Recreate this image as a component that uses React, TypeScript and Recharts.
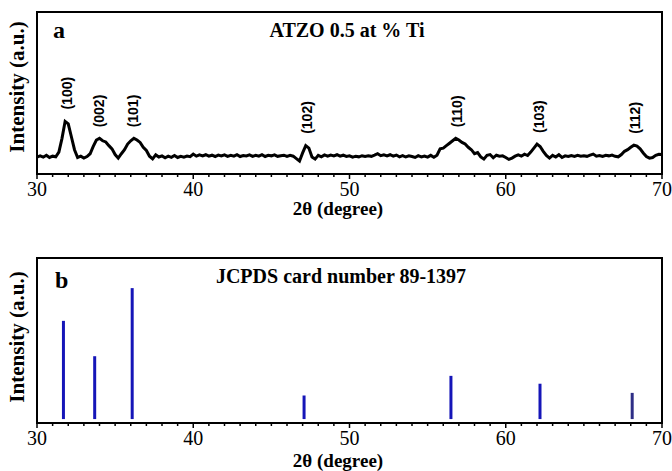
import { ComposedChart, Line, Scatter, Bar, Cell, XAxis, YAxis, ReferenceArea } from 'recharts';

// XRD pattern (a): intensity sampled every 0.2 degree from 30 to 70
const START_DEG = 30;
const STEP_DEG = 0.2;
const INTENSITY_A = [
    10.5, 11.2, 10.4, 11.6, 10.2, 11.0, 10.6, 13.5, 22.0, 32.5,
    31.0, 23.0, 15.0, 10.2, 11.0, 9.8, 10.8, 12.5, 17.0, 21.0,
    22.0, 20.5, 19.8, 17.5, 15.5, 12.0, 9.8, 12.5, 15.0, 18.5,
    20.5, 22.0, 21.0, 19.5, 16.5, 14.5, 11.0, 9.3, 11.8, 10.5,
    11.2, 10.0, 11.0, 10.3, 11.4, 10.2, 10.9, 10.4, 11.1, 10.7,
    12.3, 11.0, 11.8, 11.2, 11.9, 11.0, 11.6, 10.8, 11.7, 11.1,
    11.8, 10.9, 11.5, 11.0, 11.9, 10.8, 11.4, 11.1, 11.8, 10.9,
    11.6, 11.0, 11.9, 10.8, 11.5, 11.2, 11.8, 10.9, 11.3, 11.6,
    10.8, 11.5, 11.0, 9.5, 8.0, 13.0, 17.5, 16.0, 10.5, 9.2,
    11.5, 10.6, 11.8, 11.0, 11.7, 11.2, 11.9, 11.0, 11.6, 10.8,
    11.2, 10.4, 11.0, 10.6, 11.3, 10.8, 11.2, 10.9, 11.6, 12.5,
    11.3, 11.8, 11.2, 11.9, 11.0, 11.7, 10.6, 11.4, 10.5, 11.2,
    10.8, 10.2, 11.3, 10.6, 11.1, 10.4, 11.5, 10.3, 11.6, 15.5,
    16.0, 17.5, 19.0, 20.5, 22.0, 21.0, 19.5, 18.5, 16.5, 15.0,
    12.5, 13.2, 10.5, 9.2, 11.5, 12.0, 10.0, 11.6, 11.0, 11.2,
    10.2, 9.0, 9.8, 11.0, 11.8, 11.0, 12.2, 11.4, 13.5, 16.0,
    18.5, 17.0, 14.0, 11.5, 9.8, 11.5, 10.5, 11.9, 10.2, 11.2,
    10.8, 11.4, 10.9, 11.5, 11.0, 11.3, 10.9, 11.6, 12.3, 11.0,
    11.4, 10.8, 11.5, 11.2, 11.7, 10.9, 10.6, 12.0, 14.0, 15.0,
    16.5, 17.8, 17.2, 15.5, 13.0, 10.8, 9.8, 10.2, 11.5, 12.2,
    12.0,
];

// peak annotations (hkl)
const PEAK_LABELS = ['(100)', '(002)', '(101)', '(102)', '(110)', '(103)', '(112)'];
const PEAK_DEG = [31.9, 34.0, 36.15, 47.3, 56.85, 62.1, 68.3];
const PEAK_INT = [33, 22, 22, 18, 22, 18.5, 18];

// JCPDS 89-1397 reference lines (b)
const STICK_DEG = [31.7, 33.7, 36.1, 47.1, 56.5, 62.2, 68.1];
const STICK_INT = [75, 48, 100, 18, 33, 27, 20];

const MAJOR_TICKS = [30, 40, 50, 60, 70];
const ALL_TICKS = Array.from({ length: 41 }, (_, i) => 30 + i);

const SERIF = '"Liberation Serif", "Times New Roman", serif';
const SANS = '"Liberation Sans", Arial, sans-serif';

const curveData = INTENSITY_A.map((v, i) => ({ deg: +(START_DEG + i * STEP_DEG).toFixed(1), value: v }));
const peakData = PEAK_LABELS.map((label, i) => ({ deg: PEAK_DEG[i], value: PEAK_INT[i], label }));
const stickData = STICK_DEG.map((d, i) => ({ deg: d, value: STICK_INT[i] }));

function AxisTick(props: any) {
    const { x, y, payload } = props;
    const major = MAJOR_TICKS.includes(payload.value);
    return (
        <g>
            <line x1={x} y1={y} x2={x} y2={y + (major ? 5 : 3)} stroke="#000" strokeWidth={1.5} />
            {major && (
                <text x={x} y={y + 22} textAnchor="middle" fontFamily={SERIF} fontSize={20} fill="#000">
                    {payload.value}
                </text>
            )}
        </g>
    );
}

function PeakLabel(props: any) {
    const { cx, cy, payload } = props;
    const y = cy - 11;
    return (
        <text
            x={cx}
            y={y}
            transform={`rotate(-90, ${cx}, ${y})`}
            textAnchor="start"
            dominantBaseline="central"
            fontFamily={SANS}
            fontWeight="bold"
            fontSize={14}
            fill="#000"
        >
            {payload.label}
        </text>
    );
}

function xAxisProps(height: number) {
    return {
        type: 'number' as const,
        dataKey: 'deg',
        domain: [30, 70],
        allowDataOverflow: true,
        ticks: ALL_TICKS,
        interval: 0 as const,
        tick: (p: any) => <AxisTick {...p} />,
        tickLine: false,
        tickSize: 0,
        tickMargin: 0,
        axisLine: { stroke: '#000', strokeWidth: 2 },
        height,
    };
}

export default function App() {
    return (
        <div style={{ position: 'absolute', left: 0, top: 0, width: 672, height: 471, background: '#fff', fontFamily: SERIF }}>
            <ComposedChart width={672} height={235} data={curveData} margin={{ top: 12, right: 10, left: 37, bottom: 0 }}>
                <XAxis {...xAxisProps(61)} />
                <YAxis hide domain={[0, 100]} allowDataOverflow />
                <ReferenceArea x1={30} x2={70} y1={0} y2={100} fill="none" stroke="#000" strokeWidth={2} ifOverflow="visible" />
                <Line type="linear" dataKey="value" stroke="#000" strokeWidth={3} dot={false} isAnimationActive={false} />
                <Scatter data={peakData} dataKey="value" shape={(p: any) => <PeakLabel {...p} />} isAnimationActive={false} />
            </ComposedChart>
            <ComposedChart width={672} height={236} data={stickData} margin={{ top: 23, right: 10, left: 37, bottom: 0 }}>
                <XAxis {...xAxisProps(48)} />
                <YAxis hide domain={[-3, 123]} allowDataOverflow />
                <ReferenceArea x1={30} x2={70} y1={-3} y2={123} fill="none" stroke="#000" strokeWidth={2} ifOverflow="visible" />
                <Bar dataKey="value" barSize={3} isAnimationActive={false}>
                    {stickData.map((_, i) => (
                        <Cell key={`stick-${i}`} fill={i === stickData.length - 1 ? '#2e2e86' : '#1515b8'} />
                    ))}
                </Bar>
            </ComposedChart>
            <svg width={672} height={471} style={{ position: 'absolute', left: 0, top: 0, pointerEvents: 'none' }}>
                <g fontFamily={SERIF} fontWeight="bold" fill="#000">
                    <text x={53} y={38} fontSize={24}>a</text>
                    <text x={347} y={37} fontSize={20} textAnchor="middle">ATZO 0.5 at % Ti</text>
                    <text x={24} y={87} fontSize={21} textAnchor="middle" transform="rotate(-90, 24, 87)">Intensity (a.u.)</text>
                    <text x={338} y={215} fontSize={19} textAnchor="middle">2θ (degree)</text>

                    <text x={55} y={288} fontSize={24}>b</text>
                    <text x={341} y={283} fontSize={20} textAnchor="middle">JCPDS card number 89-1397</text>
                    <text x={24} y={337} fontSize={21} textAnchor="middle" transform="rotate(-90, 24, 337)">Intensity (a.u.)</text>
                    <text x={338} y={467} fontSize={19} textAnchor="middle">2θ (degree)</text>
                </g>
            </svg>
        </div>
    );
}
